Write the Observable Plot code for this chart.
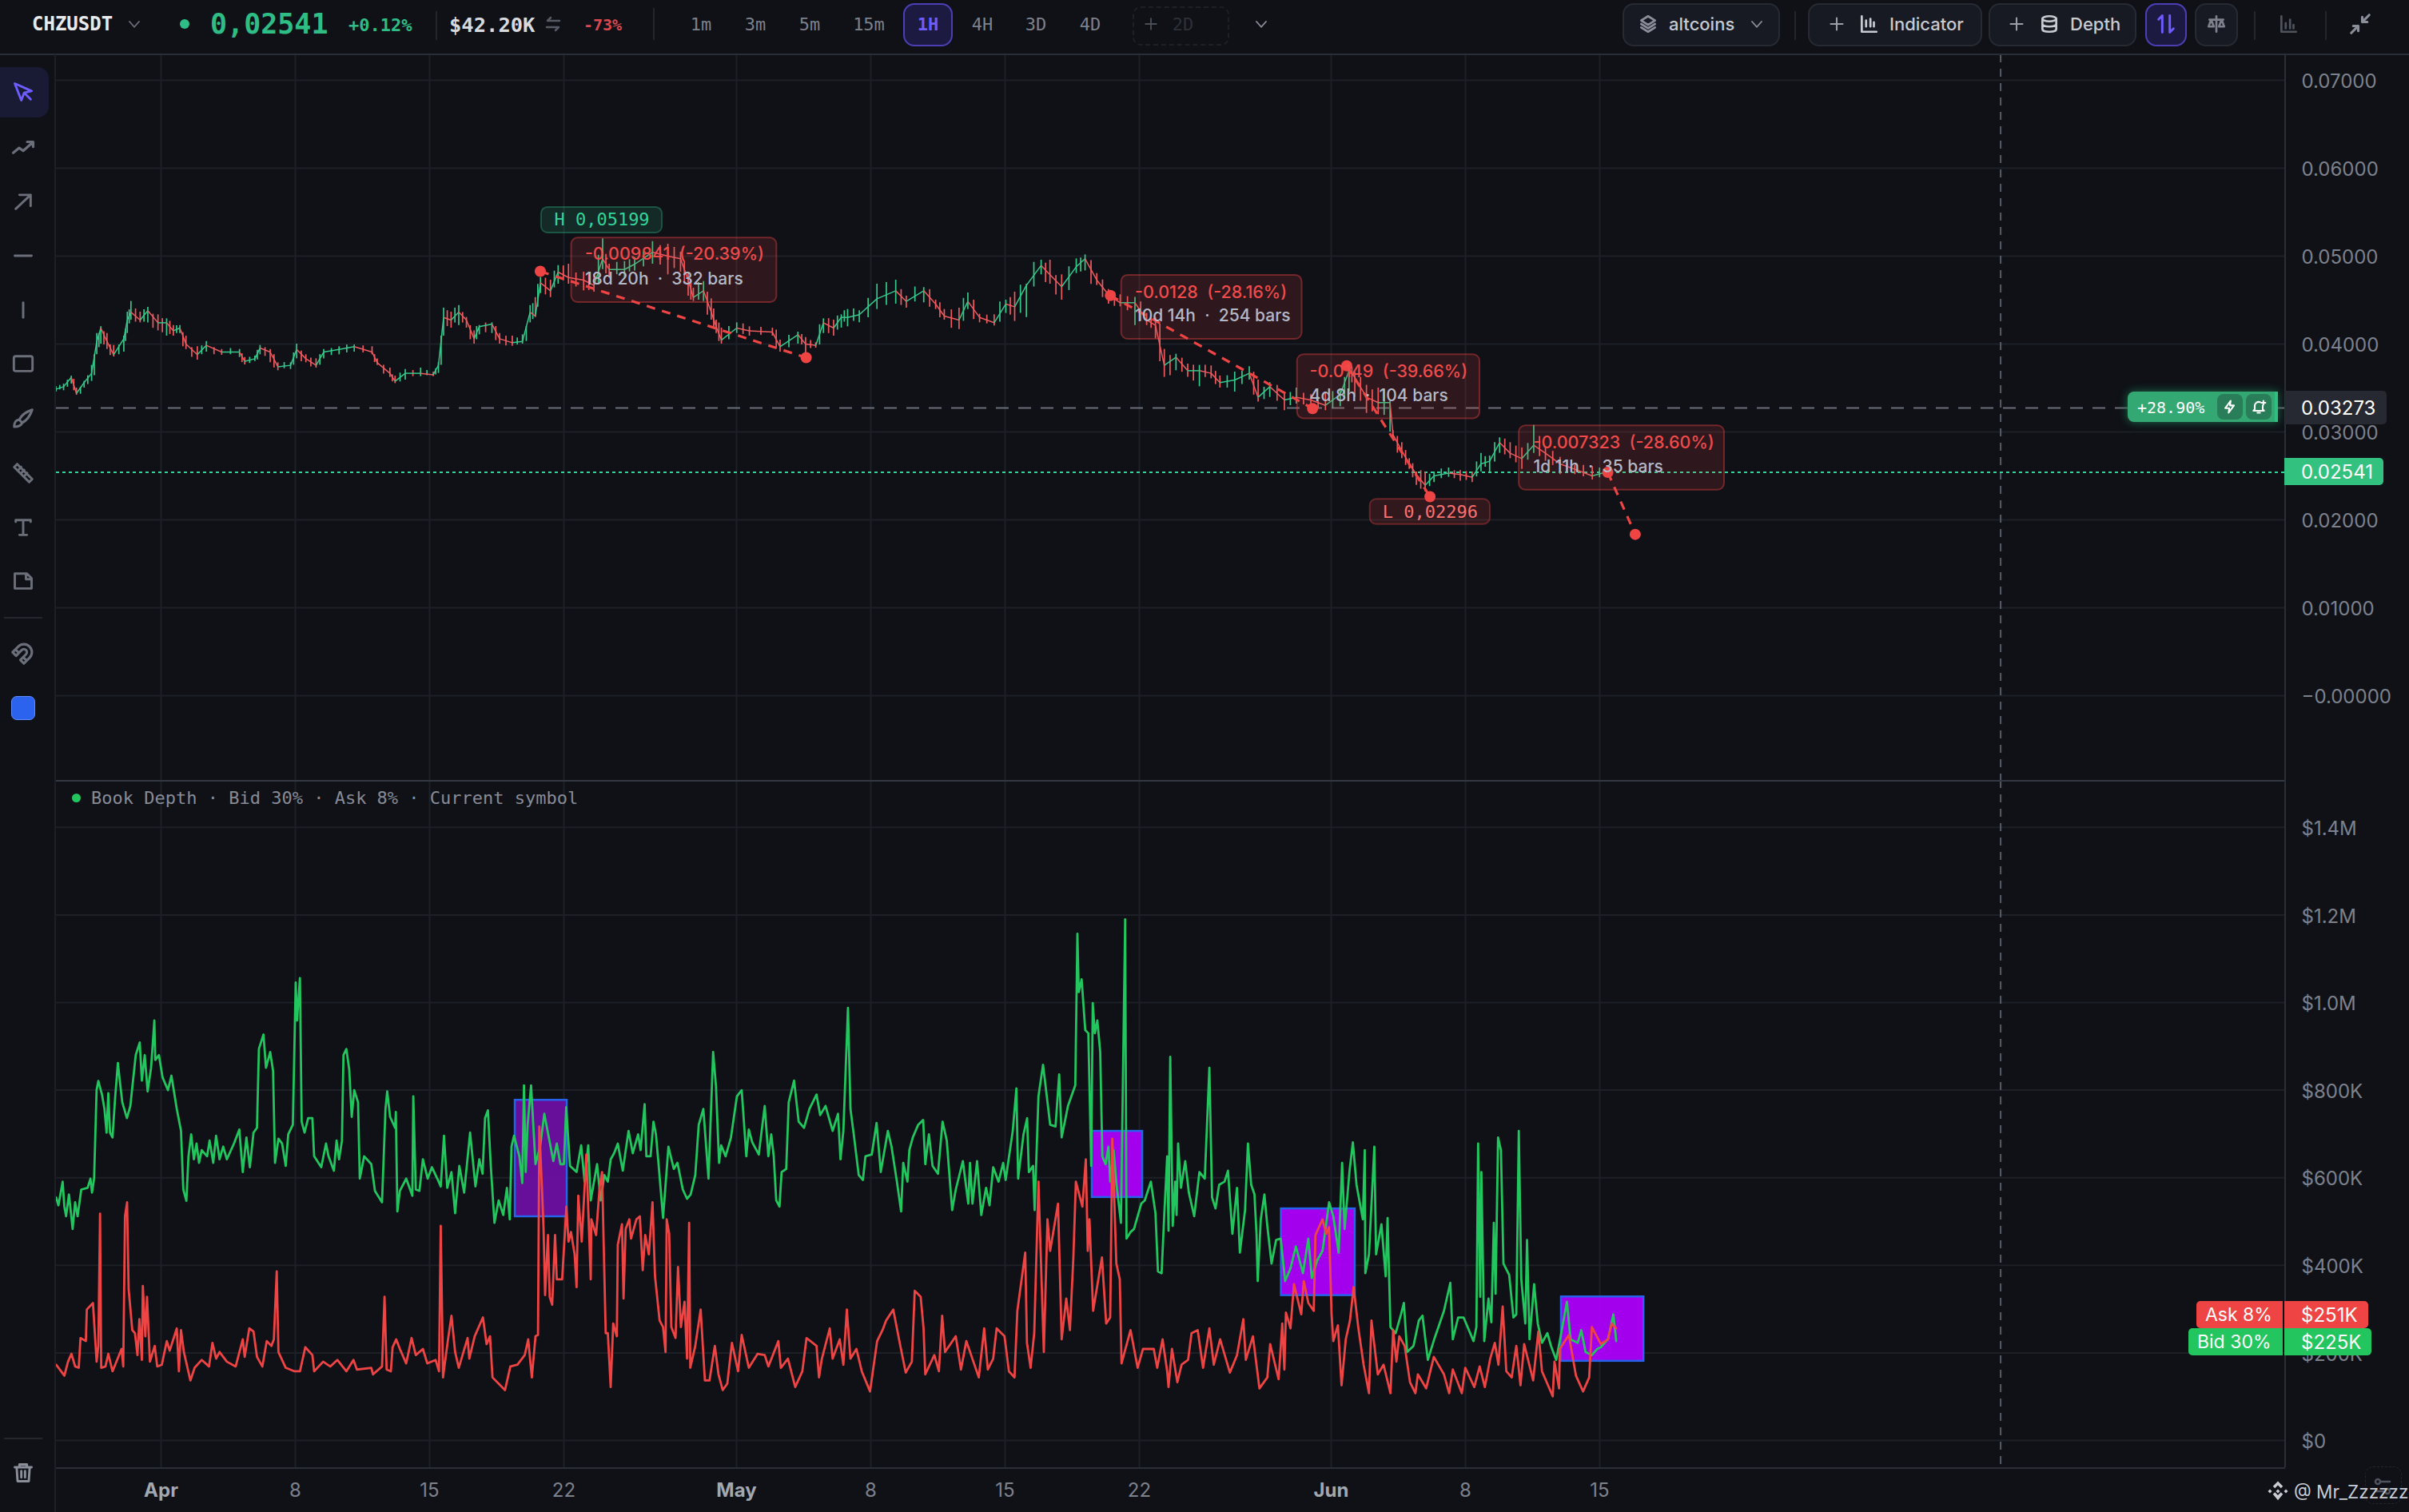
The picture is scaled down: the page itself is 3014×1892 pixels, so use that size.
<!DOCTYPE html>
<html><head><meta charset="utf-8">
<script src="https://cdn.jsdelivr.net/npm/d3@7"></script>
<script src="https://cdn.jsdelivr.net/npm/@observablehq/plot@0.6"></script>
<style>
html,body{margin:0;padding:0;background:#0f1117;width:3014px;height:1892px;overflow:hidden}
body{position:relative;font-family:Inter,sans-serif;color:#c7cad1}
#top,#bot{position:absolute;left:0}
#top{top:68px}#bot{top:976px}
#top svg,#bot svg{display:block;background:transparent}
.a{position:absolute;white-space:nowrap}
.t{position:absolute;white-space:nowrap;transform:translateY(-50%)}
.c{position:absolute;white-space:nowrap;transform:translate(-50%,-50%)}
.m{font-family:"DejaVu Sans Mono",monospace}
.b{position:absolute;top:4px;height:50px;border:2px solid #262a33;border-radius:14px;background:#171a22}
.ln{position:absolute;background:#2a2e37}
svg.i{position:absolute;fill:none;stroke:currentColor;stroke-width:2.5;stroke-linecap:round;stroke-linejoin:round;overflow:visible}
</style></head><body>
<div id="top"></div><div id="bot"></div>
<div id="ui"></div>
<script>
// All days are counted from 1 April; prices in 1e-5 USDT, depth in $K.
// [day, close, high, low]
const priceBars=[[-5.48,3485,3515,3455],[-5.08,3515,3545,3470],[-4.68,3621,3636,3545],[-4.41,3439,3500,3418],[-4.01,3561,3576,3500],[-3.62,3667,3758,3576],[-3.35,4030,4121,3879],[-3.14,4182,4197,4000],[-2.82,4030,4121,3939],[-2.47,3879,3985,3854],[-1.94,4060,4091,3909],[-1.76,4273,4364,4121],[-1.57,4363,4485,4273],[-1.09,4273,4364,4242],[-0.69,4379,4418,4242],[-0.16,4242,4333,4151],[0.29,4242,4288,4091],[0.64,4151,4212,4091],[0.98,4182,4212,4121],[1.30,4000,4091,3939],[1.89,3879,3970,3818],[2.36,3985,4030,3909],[3.16,3909,3939,3873],[4.09,3909,3939,3848],[4.36,3803,3848,3764],[4.89,3833,3863,3803],[5.16,3954,3985,3879],[5.69,3909,3939,3788],[6.09,3742,3788,3697],[6.75,3758,3788,3712],[7.07,3939,4000,3833],[7.55,3833,3879,3788],[8.08,3758,3833,3727],[8.48,3909,3939,3833],[9.28,3939,3970,3879],[10.07,3970,3991,3909],[11.0,3909,3970,3879],[11.27,3788,3833,3757],[11.93,3667,3727,3621],[12.2,3576,3636,3551],[12.73,3667,3712,3591],[13.53,3667,3727,3630],[14.19,3651,3682,3630],[14.46,3758,3788,3667],[14.73,4303,4409,4091],[15.12,4273,4364,4182],[15.52,4363,4439,4212],[15.92,4273,4303,4182],[16.32,4060,4151,4000],[16.59,4197,4212,4106],[17.25,4227,4242,4121],[17.65,4060,4121,4000],[18.31,4015,4091,3976],[18.84,4030,4106,4000],[19.24,4363,4439,4242],[19.51,4318,4530,4303],[19.78,4697,4757,4576],[20.3,4606,4727,4530],[20.7,4818,4894,4682],[21.24,4757,4909,4682],[22.03,4727,4818,4606],[22.57,4667,4788,4591],[23.02,4970,5197,4848],[23.36,4848,4909,4757],[24.16,4848,4939,4757],[24.69,4909,4985,4833],[25.62,5045,5166,4909],[26.42,5000,5136,4788],[27.08,4970,5045,4818],[27.48,4727,4818,4545],[27.75,4530,4636,4485],[28.28,4606,4712,4485],[28.68,4363,4515,4273],[28.94,4197,4273,4121],[29.21,4045,4182,4000],[30.01,4182,4242,4121],[30.67,4151,4197,4091],[31.87,4136,4182,4091],[32.27,3970,4045,3909],[33.2,4106,4136,4000],[33.6,4000,4076,3894],[34.13,3985,4015,3954],[34.53,4242,4288,4121],[35.06,4182,4273,4091],[35.46,4303,4333,4182],[35.79,4303,4394,4197],[36.4,4334,4379,4243],[37.32,4515,4682,4394],[38.3,4606,4727,4455],[38.85,4485,4546,4409],[39.76,4606,4643,4470],[40.38,4455,4500,4394],[40.83,4318,4394,4273],[41.6,4273,4409,4167],[42.06,4485,4582,4394],[42.67,4303,4340,4243],[43.43,4243,4334,4206],[44.04,4455,4500,4349],[44.5,4424,4591,4258],[45.11,4667,4682,4303],[45.88,4894,4955,4788],[46.34,4788,4955,4682],[46.95,4652,4788,4500],[47.71,4879,4970,4803],[48.17,4970,5015,4833],[48.78,4728,4803,4667],[49.39,4561,4621,4455],[50.0,4470,4561,4424],[50.77,4470,4531,4212],[51.38,4273,4349,4212],[51.84,4212,4303,4061],[52.3,3758,3940,3622],[52.91,3849,3885,3697],[53.52,3697,3773,3622],[54.13,3697,3758,3515],[54.74,3667,3752,3606],[55.2,3561,3637,3500],[55.97,3591,3682,3455],[56.73,3667,3743,3591],[57.19,3394,3591,3340],[57.8,3515,3561,3394],[58.56,3364,3455,3243],[59.18,3394,3500,3318],[59.94,3364,3425,3288],[60.7,3303,3440,3243],[61.47,3425,3485,3288],[61.93,3697,3758,3455],[62.23,3622,3682,3394],[62.84,3394,3531,3212],[63.45,3334,3500,3197],[64.07,3334,3349,3000],[64.22,2970,3016,2909],[64.68,2788,2879,2697],[65.07,2637,2697,2576],[65.44,2516,2546,2394],[65.9,2394,2546,2319],[66.36,2500,2546,2425],[67.12,2531,2591,2485],[67.73,2516,2561,2440],[68.35,2485,2546,2425],[68.81,2637,2758,2546],[69.26,2667,2728,2546],[69.78,2879,2934,2758],[70.33,2758,2879,2697],[70.94,2697,2819,2576],[71.56,2849,3076,2758],[72.17,2758,2834,2667],[72.93,2637,2712,2516],[73.7,2576,2622,2516],[74.61,2500,2606,2455],[75.37,2546,2576,2500]];
// further candle extents between the bars above: [day, high, low]
const priceWicks=[[-5.28,3530,3480],[-4.88,3590,3510],[-4.55,3600,3470],[-4.2,3510,3430],[-3.82,3640,3540],[-3.48,3880,3640],[-3.24,4120,3960],[-2.98,4140,3990],[-2.65,3990,3870],[-2.2,3990,3880],[-1.85,4170,4030],[-1.66,4390,4230],[-1.33,4400,4250],[-0.89,4390,4250],[-0.42,4340,4180],[0.07,4290,4130],[0.46,4260,4110],[0.81,4210,4120],[1.14,4130,3970],[1.6,3960,3850],[2.12,3980,3880],[2.76,3960,3880],[3.62,3950,3880],[4.22,3890,3790],[4.62,3850,3780],[5.02,3930,3820],[5.42,3960,3860],[5.89,3880,3730],[6.42,3790,3720],[6.91,3900,3760],[7.31,3920,3800],[7.81,3840,3740],[8.28,3880,3760],[8.88,3950,3870],[9.68,3990,3900],[10.53,3980,3900],[11.13,3880,3790],[11.6,3760,3660],[12.06,3650,3570],[12.46,3670,3570],[13.13,3700,3630],[13.86,3700,3640],[14.32,3720,3650],[14.6,4090,3760],[14.92,4380,4200],[15.32,4410,4240],[15.72,4360,4240],[16.12,4210,4050],[16.45,4200,4050],[16.92,4240,4130],[17.45,4200,4040],[17.98,4090,3980],[18.57,4070,3990],[19.04,4200,4030],[19.38,4460,4280],[19.64,4680,4420],[20.04,4750,4560],[20.5,4830,4640],[20.97,4890,4720],[21.63,4810,4650],[22.3,4790,4610],[22.8,5010,4680],[23.19,5020,4800],[23.76,4930,4790],[24.42,4960,4820],[25.15,5060,4880],[26.02,5120,4900],[26.75,5100,4860],[27.28,4940,4680],[27.62,4730,4500],[28.02,4700,4500],[28.48,4590,4330],[28.81,4400,4170],[29.08,4240,4030],[29.6,4200,4050],[30.34,4230,4110],[31.27,4190,4100],[32.07,4160,3950],[32.73,4100,3960],[33.4,4110,3990],[33.86,4040,3950],[34.33,4220,3990],[34.8,4290,4120],[35.26,4320,4160],[35.62,4380,4250],[36.1,4400,4260],[36.86,4520,4300],[37.81,4700,4440],[38.58,4620,4440],[39.3,4650,4480],[40.07,4620,4420],[40.6,4470,4300],[41.2,4390,4180],[41.83,4520,4260],[42.36,4500,4280],[43.05,4330,4230],[43.73,4480,4250],[44.27,4530,4330],[44.8,4670,4350],[45.5,4930,4650],[46.11,4920,4700],[46.65,4780,4560],[47.33,4880,4610],[47.94,4980,4820],[48.48,4950,4680],[49.08,4730,4530],[49.7,4590,4430],[50.38,4540,4380],[51.07,4480,4260],[51.61,4320,4180],[52.07,4230,3800],[52.6,3870,3640],[53.22,3840,3680],[53.82,3760,3580],[54.43,3760,3620],[54.97,3690,3540],[55.58,3640,3500],[56.35,3690,3540],[56.96,3680,3420],[57.5,3510,3370],[58.18,3530,3350],[58.87,3450,3300],[59.56,3440,3310],[60.32,3400,3270],[61.08,3460,3270],[61.7,3620,3380],[62.08,3740,3560],[62.53,3620,3350],[63.14,3480,3230],[63.76,3480,3190],[64.45,2950,2760],[64.88,2790,2620],[65.25,2640,2480],[65.67,2560,2350],[66.13,2520,2380],[66.74,2580,2470],[67.42,2560,2470],[68.04,2550,2450],[68.58,2660,2490],[69.03,2720,2600],[69.52,2880,2660],[70.05,2920,2740],[70.63,2840,2650],[71.25,2870,2680],[71.86,2950,2720],[72.55,2780,2620],[73.31,2680,2560],[74.15,2620,2490],[74.99,2590,2480]];
// [day, $K]
const bidDepth=[[-5.47,555],[-5.35,537],[-5.13,591],[-5.04,534],[-4.95,512],[-4.8,562],[-4.61,483],[-4.48,544],[-4.35,512],[-4.16,573],[-3.83,577],[-3.68,598],[-3.6,566],[-3.49,598],[-3.36,800],[-3.27,821],[-3.08,790],[-2.95,757],[-2.84,703],[-2.75,793],[-2.66,703],[-2.53,692],[-2.4,779],[-2.25,862],[-2.15,822],[-2.02,772],[-1.78,736],[-1.6,764],[-1.32,880],[-1.11,909],[-1.0,822],[-0.85,880],[-0.7,797],[-0.52,851],[-0.35,959],[-0.3,869],[-0.11,880],[0.08,829],[0.36,800],[0.54,833],[0.82,757],[1.04,707],[1.16,573],[1.32,547],[1.43,649],[1.57,699],[1.71,642],[1.85,678],[1.98,634],[2.12,663],[2.4,649],[2.53,685],[2.72,634],[2.87,696],[3.05,642],[3.24,671],[3.43,642],[3.8,678],[4.08,710],[4.26,613],[4.45,692],[4.63,624],[4.82,703],[5.0,714],[5.1,894],[5.34,927],[5.47,851],[5.69,887],[5.84,844],[5.94,634],[6.12,689],[6.31,678],[6.5,627],[6.63,699],[6.87,721],[7.02,1046],[7.09,959],[7.24,1056],[7.33,728],[7.48,703],[7.67,736],[7.89,736],[7.98,649],[8.35,624],[8.6,678],[8.73,649],[9.01,616],[9.15,685],[9.28,642],[9.43,685],[9.51,880],[9.66,894],[9.81,847],[9.94,739],[10.07,800],[10.27,772],[10.36,598],[10.59,649],[10.96,631],[11.15,570],[11.52,544],[11.7,757],[11.79,797],[11.94,739],[12.2,714],[12.24,750],[12.32,523],[12.45,570],[12.78,598],[13.1,559],[13.15,786],[13.28,573],[13.47,570],[13.65,642],[13.9,598],[14.12,624],[14.4,598],[14.58,580],[14.75,696],[14.92,577],[15.14,613],[15.33,519],[15.55,627],[15.8,566],[16.11,703],[16.39,580],[16.59,642],[16.76,609],[16.89,736],[17.04,754],[17.19,627],[17.38,497],[17.6,548],[17.84,515],[18.03,577],[18.18,505],[18.27,671],[18.4,696],[18.68,649],[18.83,588],[18.92,811],[19.01,613],[19.11,721],[19.29,811],[19.52,631],[19.76,671],[19.98,746],[20.45,638],[20.63,678],[20.82,631],[21.0,631],[21.12,761],[21.32,627],[21.66,613],[21.9,674],[22.08,591],[22.27,674],[22.4,548],[22.73,631],[22.92,548],[23.11,606],[23.29,591],[23.44,642],[23.62,656],[23.81,678],[24.07,616],[24.37,707],[24.59,656],[24.87,699],[25.0,663],[25.21,768],[25.3,649],[25.52,649],[25.67,728],[25.8,699],[25.93,634],[26.17,508],[26.45,671],[26.73,620],[26.92,634],[27.2,573],[27.42,552],[27.61,562],[27.85,606],[28.03,721],[28.27,757],[28.54,598],[28.78,887],[28.93,808],[29.09,634],[29.2,674],[29.43,649],[29.71,692],[30.02,786],[30.27,800],[30.51,649],[30.64,710],[30.82,681],[31.16,653],[31.47,764],[31.66,649],[31.81,699],[31.94,649],[32.07,548],[32.24,534],[32.35,613],[32.59,620],[32.72,772],[33.0,822],[33.24,728],[33.52,714],[33.8,757],[34.17,790],[34.36,743],[34.64,764],[35.01,707],[35.29,746],[35.42,642],[35.57,707],[35.81,988],[35.94,757],[36.12,696],[36.37,606],[36.59,595],[36.72,649],[37.05,653],[37.3,725],[37.52,613],[37.89,707],[38.08,671],[38.36,591],[38.58,523],[38.69,634],[38.91,591],[39.01,663],[39.19,692],[39.47,721],[39.73,732],[39.84,631],[40.03,699],[40.22,627],[40.5,609],[40.74,728],[40.96,685],[41.24,526],[41.43,573],[41.8,638],[42.08,541],[42.17,634],[42.3,541],[42.54,638],[42.76,515],[43.01,577],[43.19,537],[43.38,624],[43.66,591],[43.9,634],[44.03,595],[44.4,707],[44.59,804],[44.68,598],[44.96,699],[45.15,736],[45.24,613],[45.46,627],[45.54,526],[45.74,786],[45.98,858],[46.35,721],[46.63,717],[46.82,836],[46.95,692],[47.28,764],[47.66,811],[47.77,1157],[47.84,1024],[47.99,1053],[48.18,937],[48.34,930],[48.49,627],[48.57,999],[48.68,930],[48.81,959],[48.96,887],[49.07,649],[49.24,631],[49.39,671],[49.48,591],[49.66,663],[49.8,588],[50.04,497],[50.26,1190],[50.33,461],[50.54,476],[50.72,483],[51.1,541],[51.28,548],[51.6,591],[51.84,519],[51.97,386],[52.16,382],[52.31,526],[52.45,649],[52.52,479],[52.61,876],[52.74,490],[52.87,591],[52.94,515],[53.02,678],[53.17,577],[53.39,638],[53.58,566],[53.86,512],[54.13,613],[54.41,598],[54.65,851],[54.79,555],[54.97,530],[55.16,584],[55.44,591],[55.62,616],[55.85,472],[56.09,577],[56.24,429],[56.51,526],[56.66,678],[56.83,584],[57.0,562],[57.11,469],[57.17,364],[57.33,505],[57.52,562],[57.67,490],[57.89,404],[58.13,458],[58.37,461],[58.6,364],[58.88,393],[59.16,443],[59.53,382],[59.81,461],[59.99,371],[60.27,411],[60.55,433],[60.89,544],[61.11,512],[61.39,429],[61.57,634],[61.7,483],[61.95,613],[62.13,681],[62.32,584],[62.65,505],[62.75,663],[62.78,382],[62.97,425],[63.25,671],[63.34,425],[63.62,494],[63.84,375],[63.94,508],[64.09,259],[64.36,245],[64.64,288],[64.79,314],[64.96,202],[65.29,216],[65.57,274],[65.76,285],[66.04,184],[66.37,231],[66.88,296],[67.21,360],[67.34,231],[67.62,281],[67.9,281],[68.42,227],[68.57,259],[68.66,678],[68.77,328],[68.83,613],[68.98,227],[69.2,324],[69.35,270],[69.48,497],[69.57,335],[69.7,692],[69.85,663],[69.98,404],[70.28,378],[70.5,281],[70.65,288],[70.78,707],[70.91,368],[71.12,267],[71.21,458],[71.34,231],[71.58,357],[71.77,267],[71.99,223],[72.27,245],[72.46,216],[72.73,184],[73.01,249],[73.29,317],[73.48,231],[73.85,223],[74.04,252],[74.26,202],[74.59,195],[74.87,209],[75.06,213],[75.43,231],[75.71,288],[75.86,227]];
const askDepth=[[-5.47,173],[-5.04,148],[-4.85,180],[-4.67,198],[-4.48,169],[-4.29,166],[-4.2,234],[-3.92,227],[-3.87,299],[-3.55,314],[-3.36,180],[-3.27,216],[-3.18,518],[-3.12,166],[-2.9,169],[-2.75,198],[-2.53,158],[-2.06,209],[-1.97,169],[-1.88,512],[-1.77,544],[-1.69,346],[-1.5,252],[-1.36,245],[-1.23,195],[-1.13,277],[-1.0,184],[-0.95,353],[-0.82,238],[-0.73,328],[-0.58,180],[-0.33,216],[-0.2,169],[0.04,173],[0.3,227],[0.45,205],[0.82,256],[0.93,158],[1.04,252],[1.19,202],[1.53,137],[1.75,166],[2.12,184],[2.5,169],[2.68,223],[2.87,187],[3.05,202],[3.43,180],[3.89,169],[4.26,231],[4.36,191],[4.6,256],[4.82,249],[5.0,191],[5.28,169],[5.51,227],[5.75,216],[5.88,231],[6.03,386],[6.12,202],[6.5,166],[6.96,158],[7.24,158],[7.52,213],[7.89,195],[7.98,158],[8.45,180],[8.82,169],[9.19,184],[9.66,158],[10.03,184],[10.21,162],[10.96,166],[11.05,151],[11.52,169],[11.65,328],[11.76,162],[11.98,158],[12.07,213],[12.26,231],[12.45,209],[12.78,176],[13.06,234],[13.28,195],[13.65,209],[13.88,176],[14.31,184],[14.49,158],[14.58,490],[14.7,144],[14.96,231],[15.14,285],[15.33,202],[15.52,166],[15.98,234],[16.07,187],[16.35,238],[16.78,281],[16.97,220],[17.15,238],[17.28,144],[17.93,115],[18.21,169],[18.58,173],[18.96,195],[19.14,231],[19.33,144],[19.52,238],[19.65,241],[19.72,717],[19.87,562],[19.94,483],[20.02,332],[20.17,469],[20.26,328],[20.39,310],[20.54,469],[20.63,368],[20.91,368],[21.13,534],[21.24,454],[21.37,476],[21.56,425],[21.66,350],[21.75,559],[21.93,454],[22.17,653],[22.4,368],[22.43,505],[22.68,469],[22.86,577],[22.99,613],[23.18,245],[23.29,245],[23.44,122],[23.57,267],[23.76,238],[23.81,447],[24.03,494],[24.11,324],[24.22,483],[24.41,505],[24.5,461],[24.78,505],[24.96,512],[25.11,389],[25.24,469],[25.43,425],[25.62,544],[25.75,375],[25.99,274],[26.17,259],[26.3,202],[26.36,505],[26.49,472],[26.6,259],[26.82,234],[26.95,396],[27.1,259],[27.29,317],[27.42,187],[27.53,497],[27.59,166],[27.85,216],[28.13,299],[28.35,137],[28.59,137],[28.87,216],[29.06,151],[29.28,115],[29.52,130],[29.76,223],[30.08,158],[30.27,241],[30.64,166],[31.1,198],[31.47,195],[31.66,169],[32.18,227],[32.31,166],[32.68,187],[33.06,122],[33.43,158],[33.65,234],[34.17,216],[34.3,144],[34.45,187],[34.86,256],[35.01,187],[35.38,231],[35.57,173],[35.75,299],[35.94,187],[36.25,209],[36.53,158],[36.96,112],[37.33,227],[37.61,252],[37.8,274],[38.17,299],[38.54,216],[38.82,155],[39.14,180],[39.29,342],[39.6,328],[39.75,256],[39.84,151],[40.31,195],[40.55,158],[40.72,285],[40.87,202],[41.43,238],[41.7,162],[41.98,227],[42.63,144],[42.91,256],[43.1,162],[43.38,187],[43.56,256],[43.97,238],[44.2,158],[44.49,144],[44.64,296],[45.05,429],[45.14,223],[45.33,166],[45.52,245],[45.74,591],[46.02,202],[46.21,505],[46.35,433],[46.76,541],[46.95,231],[47.19,324],[47.38,252],[47.56,418],[47.69,591],[48.03,534],[48.21,642],[48.31,433],[48.4,505],[48.59,296],[49.05,418],[49.27,267],[49.48,281],[49.59,689],[49.8,404],[49.98,368],[50.07,176],[50.54,252],[50.91,166],[51.19,209],[51.75,209],[51.93,166],[52.21,231],[52.45,158],[52.52,122],[52.7,209],[52.98,133],[53.2,173],[53.54,184],[53.72,245],[54.04,252],[54.32,166],[54.65,256],[54.88,173],[55.21,231],[55.72,155],[56.09,195],[56.42,277],[56.55,184],[56.92,238],[57.26,119],[57.67,144],[57.82,220],[58.26,140],[58.45,267],[58.56,162],[58.64,292],[58.88,256],[59.06,357],[59.44,288],[59.57,364],[59.81,314],[60.09,296],[60.18,469],[60.55,505],[60.74,472],[60.89,487],[61.02,288],[61.11,227],[61.35,263],[61.54,126],[61.76,231],[61.98,274],[62.17,350],[62.41,259],[62.69,173],[62.97,108],[63.1,274],[63.43,151],[63.73,173],[64.09,108],[64.23,252],[64.4,180],[64.55,238],[64.83,216],[65.11,133],[65.39,108],[65.52,151],[65.95,119],[66.35,191],[66.88,151],[67.15,108],[67.34,162],[67.81,108],[67.99,166],[68.46,122],[68.74,169],[69.01,122],[69.29,187],[69.53,223],[69.72,173],[69.94,306],[70.13,158],[70.41,144],[70.65,216],[70.87,126],[71.06,220],[71.53,137],[71.8,249],[71.99,158],[72.55,101],[72.64,180],[72.88,119],[72.92,209],[73.39,241],[73.76,148],[74.13,112],[74.45,144],[74.59,259],[75.06,220],[75.43,231],[75.62,267],[75.86,256]];
// highlighted depth boxes: [day from, day to, $K low, $K high]
const depthBoxes=[[18.46,21.17,511,777],[48.54,51.17,555,706],[58.4,62.25,331,529],[73.0,77.3,181,328]];
// measure drawings: [day from, price from, day to, price to]
const measures=[[19.77,0.04827,33.63,0.03845],[49.49,0.04552,60.03,0.03266],[61.81,0.03752,66.15,0.02264],[75.42,0.02541,76.85,0.01835]];
const measureLabels=[["-0.009841  (-20.39%)","18d 20h  ·  332 bars"],["-0.0128  (-28.16%)","10d 14h  ·  254 bars"],["-0.0149  (-39.66%)","4d 8h  ·  104 bars"],["-0.007323  (-28.60%)","1d 11h  ·  35 bars"]];
// label boxes: [day from, day to, price low, price high]
const measureBoxes=[[21.4,32.1,0.04473,0.05206],[50.07,59.48,0.04055,0.04782],[59.24,68.75,0.03151,0.03879],[70.8,81.5,0.02339,0.0307]];
const highLow=[["H 0,05199",22.98,0.0541,19.83,26.13,0.05264,0.05555],["L 0,02296",66.16,0.0209,63.03,69.29,0.01948,0.02234]];
const lastPrice=0.02541, markPrice=0.03273, crosshairDay=95.9;
const priceTicks=[0,0.01,0.02,0.03,0.04,0.05,0.06,0.07];
const depthTicks=[0,200,400,600,800,1000,1200,1400];
const dayTicks=[0,7,14,21,30,37,44,51,61,68,75];
const dayTickLabels=["Apr","8","15","22","May","8","15","22","Jun","8","15"];
const monthTickIndex=[0,4,8];

const day=d=>new Date(Date.UTC(2025,3,1)+d*864e5);
const xDomain=[day(-5.4583),day(110.75)];
const GRID="#1d2027",GREEN="#22c55e",RED="#ef4444",UP="#35c98b",DOWN="#ef5a5f";
const font="Inter, sans-serif", mono="'DejaVu Sans Mono', monospace";
const base={width:3014,marginLeft:70,marginRight:155,marginTop:0,style:{background:"transparent",fontFamily:font,fontSize:"24px"}};

const moves=priceBars.slice(1).map((b,i)=>({x1:day(priceBars[i][0]),y1:priceBars[i][1]/1e5,x2:day(b[0]),y2:b[1]/1e5,up:b[1]>=priceBars[i][1]}));
const bars=priceBars.map((b,i)=>({x:day(b[0]),hi:b[2]/1e5,lo:b[3]/1e5,up:i===0||b[1]>=priceBars[i-1][1]}));
const wicks=priceWicks.map(w=>{const prev=priceBars[Math.max(0,d3.bisector(b=>b[0]).left(priceBars,w[0])-1)];return {x:day(w[0]),hi:w[1]/1e5,lo:w[2]/1e5,up:(w[1]+w[2])/2>=prev[1]};});
const dir=d=>d.up?UP:DOWN;
const tickDy=2;

const topChart=Plot.plot({...base,height:908,marginBottom:0,
 x:{type:"utc",domain:xDomain,axis:null},
 y:{domain:[-0.009636,0.07291],axis:null},
 marks:[
  Plot.ruleY(priceTicks,{stroke:GRID,strokeWidth:2}),
  Plot.ruleX(dayTicks.map(day),{stroke:GRID,strokeWidth:2}),
  Plot.axisY(priceTicks,{anchor:"right",tickSize:0,tickPadding:20,dy:tickDy,fill:"#7d818c",fontSize:24,fontVariant:"normal",tickFormat:v=>v===0?"−0.00000":v.toFixed(5)}),
  Plot.ruleX([day(crosshairDay)],{stroke:"#565b66",strokeWidth:2,strokeDasharray:"10 8"}),
  Plot.ruleY([markPrice],{stroke:"#6a6e78",strokeWidth:2,strokeDasharray:"16 12"}),
  Plot.ruleY([lastPrice],{stroke:"#34d399",strokeWidth:2,strokeDasharray:"4 4"}),
  Plot.ruleX(wicks,{x:"x",y1:"lo",y2:"hi",stroke:dir,strokeWidth:1.7}),
  Plot.ruleX(bars,{x:"x",y1:"lo",y2:"hi",stroke:dir,strokeWidth:1.7}),
  Plot.link(moves,{x1:"x1",y1:"y1",x2:"x2",y2:"y2",stroke:dir,strokeWidth:1.5}),
  Plot.rect(measureBoxes,{x1:b=>day(b[0]),x2:b=>day(b[1]),y1:b=>b[2],y2:b=>b[3],rx:8,fill:"#ef4444",fillOpacity:0.14,stroke:"#ef4444",strokeOpacity:0.4,strokeWidth:2}),
  Plot.rect(highLow,{x1:b=>day(b[3]),x2:b=>day(b[4]),y1:b=>b[5],y2:b=>b[6],rx:8,fill:(b,i)=>i?"#ef4444":"#2ebd85",fillOpacity:0.15,stroke:(b,i)=>i?"#ef4444":"#2ebd85",strokeOpacity:0.35,strokeWidth:2}),
  Plot.text(highLow,{x:b=>day(b[1]),y:b=>b[2],text:b=>b[0],fill:(b,i)=>i?"#f87171":"#34d399",fontFamily:mono,fontSize:22}),
  Plot.link(measures,{x1:m=>day(m[0]),y1:m=>m[1],x2:m=>day(m[2]),y2:m=>m[3],stroke:RED,strokeWidth:3.2,strokeDasharray:"11 9"}),
  Plot.dot(measures,{x:m=>day(m[0]),y:m=>m[1],r:7,fill:RED}),
  Plot.dot(measures,{x:m=>day(m[2]),y:m=>m[3],r:7,fill:RED}),
  Plot.text(measureLabels,{x:(l,i)=>day([22.1,50.77,59.88,71.54][i]),y:(l,i)=>[0.05018,0.04585,0.03682,0.02873][i],text:l=>l[0],textAnchor:"start",fill:"#f04a4a",fontSize:21.5,fontWeight:500,fontFamily:font}),
  Plot.text(measureLabels,{x:(l,i)=>day([22.1,50.77,59.88,71.54][i]),y:(l,i)=>[0.04736,0.04318,0.03409,0.02606][i],text:l=>l[1],textAnchor:"start",fill:"#b4b8c6",fontSize:21,fontWeight:500,fontFamily:font})
 ]});
document.getElementById("top").append(topChart);

const botChart=Plot.plot({...base,height:916,marginBottom:56,
 x:{type:"utc",domain:xDomain,axis:null},
 y:{domain:[-62,1507.3],axis:null},
 marks:[
  Plot.ruleY(depthTicks,{stroke:GRID,strokeWidth:2}),
  Plot.ruleX(dayTicks.map(day),{stroke:GRID,strokeWidth:2}),
  Plot.rect(depthBoxes,{x1:b=>day(b[0]),x2:b=>day(b[1]),y1:b=>b[2],y2:b=>b[3],fill:(b,i)=>i?"#ae00ff":"#6e0fa6",fillOpacity:0.93,stroke:"#2563eb",strokeWidth:2.5}),
  Plot.axisY(depthTicks,{anchor:"right",tickSize:0,tickPadding:20,dy:tickDy,fill:"#7d818c",fontSize:24,fontVariant:"normal",tickFormat:v=>v===0?"$0":v>=1000?"$"+(v/1000).toFixed(1)+"M":"$"+v+"K"}),
  Plot.ruleX([day(crosshairDay)],{stroke:"#565b66",strokeWidth:2,strokeDasharray:"10 8"}),
  Plot.line(bidDepth,{x:r=>day(r[0]),y:r=>r[1],stroke:GREEN,strokeWidth:2.8}),
  Plot.line(askDepth,{x:r=>day(r[0]),y:r=>r[1],stroke:RED,strokeWidth:2.8}),
  Plot.axisX(dayTicks.map(day).filter((d,i)=>!monthTickIndex.includes(i)),{anchor:"bottom",tickSize:0,tickPadding:19,fill:"#7d818c",fontSize:24,fontWeight:400,fontVariant:"normal",tickFormat:d=>dayTickLabels[dayTicks.indexOf((d-day(0))/864e5)]}),
  Plot.axisX(monthTickIndex.map(i=>day(dayTicks[i])),{anchor:"bottom",tickSize:0,tickPadding:19,fill:"#a3a7b0",fontSize:24,fontWeight:700,fontVariant:"normal",tickFormat:d=>dayTickLabels[dayTicks.indexOf((d-day(0))/864e5)]})
 ]});
document.getElementById("bot").append(botChart);

// --- interface chrome around the chart ---
const ic=(x,y,s,inner,color="#6b6f7a")=>`<svg class="i" style="left:${x-s/2}px;top:${y-s/2}px;color:${color}" width="${s}" height="${s}" viewBox="0 0 24 24">${inner}</svg>`;
const T=(x,y,txt,st)=>`<div class="t" style="left:${x}px;top:${y}px;${st}">${txt}</div>`;
const C=(x,y,txt,st)=>`<div class="c" style="left:${x}px;top:${y}px;${st}">${txt}</div>`;
const box=(x1,x2,st="")=>`<div class="b" style="left:${x1}px;width:${x2-x1-4}px;${st}"></div>`;
const vl=(x,y1,y2,c="#23262e")=>`<div class="ln" style="left:${x}px;top:${y1}px;width:2px;height:${y2-y1}px;background:${c}"></div>`;
const hl=(x1,x2,y,c="#2a2e37")=>`<div class="ln" style="left:${x1}px;top:${y}px;width:${x2-x1}px;height:2px;background:${c}"></div>`;
const chev=(x,y,c="#6b6f7a")=>ic(x,y,18,'<path d="M4 8l8 9 8-9"/>',c);
let h="";
// frame
h+=hl(0,3014,67,"#2a2e37")+hl(70,2859,976,"#343842")+hl(70,2859,1836,"#2a2e37");
h+=vl(2858,68,1836,"#2a2e37")+vl(68,68,1892,"#1c1f26");
// top bar
h+=T(40,30,"CHZUSDT","font:700 24px 'DejaVu Sans Mono';color:#e8eaee");
h+=chev(168,30);
h+=`<div class="a" style="left:225px;top:24px;width:12px;height:12px;border-radius:50%;background:#2ebd85"></div>`;
h+=T(263,30,"0,02541","font:700 35px 'DejaVu Sans Mono';color:#2ebd85");
h+=T(436,31,"+0.12%","font:700 22px 'DejaVu Sans Mono';color:#2ebd85");
h+=vl(545,14,50);
h+=T(562,31,"$42.20K","font:700 25.5px 'DejaVu Sans Mono';color:#d8dade");
h+=ic(692,30,24,'<path d="M20 8H5l4-4M4 16h15l-4 4"/>',"#565a64");
h+=T(730,31,"-73%","font:700 20px 'DejaVu Sans Mono';color:#d9484f");
h+=vl(817,10,50);
[["1m",877],["3m",945],["5m",1013],["15m",1087]].forEach(([t,x])=>h+=C(x,30,t,"font:22px 'DejaVu Sans Mono';color:#7d818c"));
h+=box(1130,1192,"background:#1d1a42;border-color:#4c3fb5");
h+=C(1161,30,"1H","font:700 22px 'DejaVu Sans Mono';color:#6d5cff");
[["4H",1229],["3D",1296],["4D",1364]].forEach(([t,x])=>h+=C(x,30,t,"font:22px 'DejaVu Sans Mono';color:#7d818c"));
h+=`<div class="a" style="left:1417px;top:8px;width:117px;height:45px;border:2px dashed #1d2027;border-radius:10px"></div>`;
h+=ic(1440,30,18,'<path d="M12 3v18M3 12h18"/>',"#4a4e57")+C(1480,30,"2D","font:22px 'DejaVu Sans Mono';color:#2d3038");
h+=chev(1578,30,"#8b8f9a");
h+=box(2030,2227)+ic(2062,30,26,'<path d="M12 3l8 5-8 5-8-5zM4 12l8 5 8-5M4 16l8 5 8-5"/>',"#8b8f9a")+T(2088,30,"altcoins","font:500 22px Inter;color:#c7cad1")+chev(2198,30,"#8b8f9a");
h+=vl(2245,14,50);
h+=box(2262,2480)+ic(2298,30,20,'<path d="M12 3v18M3 12h18"/>',"#9a9ea9")+ic(2338,30,26,'<path d="M4 3v18h17M9 15V8M14 15V6M18 15v-5"/>',"#c7cad1")+T(2364,30,"Indicator","font:500 22px Inter;color:#c7cad1");
h+=box(2488,2673)+ic(2523,30,20,'<path d="M12 3v18M3 12h18"/>',"#9a9ea9")+ic(2564,30,26,'<ellipse cx="12" cy="6" rx="8" ry="3"/><path d="M4 6v12c0 2 4 3 8 3s8-1 8-3V6M4 12c0 2 4 3 8 3s8-1 8-3"/>',"#c7cad1")+T(2590,30,"Depth","font:500 22px Inter;color:#c7cad1");
h+=box(2684,2736,"background:#1d1a42;border-color:#4c3fb5")+ic(2710,30,28,'<path d="M8 21V3L4 7M16 3v18l4-4"/>',"#6d5cff");
h+=box(2746,2800)+ic(2773,30,26,'<path d="M12 3v18M4 7h16M6 7l-3 8h6zM18 7l-3 8h6z"/>',"#7d818c");
h+=vl(2820,14,50)+ic(2863,30,26,'<path d="M4 3v18h17M9 17v-6M14 17V7M18 17v-4"/>',"#4f535d");
h+=vl(2909,14,50)+ic(2953,30,30,'<path d="M21 3l-7 7M14 5v5h5M3 21l7-7M10 19v-5H5"/>',"#8b8f9a");
// left tools
h+=`<div class="a" style="left:0;top:84px;width:61px;height:63px;border-radius:0 14px 14px 0;background:#191a33"></div>`;
h+=ic(29,115,28,'<path d="M3 3l18 8-8 2-3 8zM14 14l6 6"/>',"#6d5cff");
h+=ic(29,185,30,'<path d="M2 17l6-5 4 3 9-8M16 6h6v5"/>');
h+=ic(29,252,28,'<path d="M4 20L20 5M8 5h12v12"/>');
h+=ic(29,320,28,'<path d="M3 12h18"/>');
h+=ic(29,388,28,'<path d="M12 4v16"/>');
h+=ic(29,455,28,'<rect x="2" y="4" width="20" height="16" rx="2"/>');
h+=ic(29,524,30,'<path d="M21 3C15 5 10 9 8 13l3 3c4-2 8-7 10-13zM8 13c-3 0-5 3-5 7 4 0 7-1 8-4"/>');
h+=ic(29,592,30,'<path d="M6 3l15 15-3 3L3 6zM8 8l2-2M11 11l2-2M14 14l2-2"/>');
h+=ic(29,660,28,'<path d="M4 6V4h16v2M12 4v16M8 20h8"/>');
h+=ic(29,727,28,'<path d="M3 4h13l5 5v11H3zM15 4v6h6"/>');
h+=hl(5,53,772,"#24272f");
h+=ic(29,817,30,'<g transform="rotate(-135 12 12)"><path d="M4 5v8a8 8 0 0 0 16 0V5h-5v8a3 3 0 0 1-6 0V5zM4 9h5M15 9h5"/></g>');
h+=`<div class="a" style="left:14px;top:871px;width:30px;height:30px;border-radius:7px;background:#2b63ee;border:1px solid #5e8cff;box-sizing:border-box"></div>`;
h+=hl(5,53,1799,"#24272f");
h+=ic(29,1843,28,'<path d="M3 6h18M8 6V3h8v3M5 6l1 15h12l1-15M10 10v7M14 10v7"/>',"#8b8f9a");
// legend above the depth pane
h+=`<div class="a" style="left:90px;top:993px;width:11px;height:11px;border-radius:50%;background:#22c55e"></div>`;
h+=T(114,998,"Book Depth · Bid 30% · Ask 8% · Current symbol","font:22px 'DejaVu Sans Mono';color:#878b96");
// price tags
h+=`<div class="a" style="left:2662px;top:490px;width:188px;height:38px;border-radius:8px 0 0 8px;background:#33a872;box-shadow:0 0 12px #1d6b4a"></div>`;
h+=`<div class="a" style="left:2846px;top:490px;width:4px;height:38px;background:#2fbf7f"></div>`;
h+=T(2674,510,"+28.90%","font:20px 'DejaVu Sans Mono';color:#fff");
h+=`<div class="a" style="left:2774px;top:493px;width:32px;height:32px;border-radius:8px;background:#2a7d59"></div><div class="a" style="left:2810px;top:493px;width:32px;height:32px;border-radius:8px;background:#2a7d59"></div>`;
h+=ic(2790,509,20,'<path d="M13 3L5 14h6l-1 7 8-11h-6z"/>',"#fff")+ic(2826,509,20,'<path d="M6 16V10a6 6 0 0 1 8-5M18 10v6l2 2H4l2-2M10 21h4M19 3v6M16 6h6"/>',"#fff");
h+=`<div class="a" style="left:2859px;top:489px;width:127px;height:42px;background:#262932;border-radius:0 5px 5px 0"></div>`;
h+=T(2879,510,"0.03273","font:24px Inter;color:#fff");
h+=`<div class="a" style="left:2858px;top:573px;width:124px;height:34px;background:#33c17f;border-radius:0 5px 5px 0"></div>`;
h+=T(2879,590,"0.02541","font:24px Inter;color:#fff");
// depth tags
h+=`<div class="a" style="left:2748px;top:1628px;width:108px;height:34px;background:#ef4444;border-radius:5px 0 0 5px"></div><div class="a" style="left:2858px;top:1628px;width:105px;height:34px;background:#ef4444;border-radius:0 5px 5px 0"></div>`;
h+=T(2759,1645,"Ask 8%","font:23px Inter;color:#fff")+T(2879,1645,"$251K","font:24px Inter;color:#fff");
h+=`<div class="a" style="left:2738px;top:1662px;width:118px;height:34px;background:#22c55e;border-radius:5px 0 0 5px"></div><div class="a" style="left:2858px;top:1662px;width:109px;height:34px;background:#22c55e;border-radius:0 5px 5px 0"></div>`;
h+=T(2749,1679,"Bid 30%","font:23px Inter;color:#fff")+T(2879,1679,"$225K","font:24px Inter;color:#fff");
// watermark
h+=`<div class="a" style="left:2959px;top:1835px;width:44px;height:45px;border:1.5px dashed #23262e;border-radius:10px"></div>`;
h+=ic(2981,1860,24,'<circle cx="6" cy="6" r="3"/><path d="M9 6h12M3 18h12"/><circle cx="18" cy="18" r="3"/>',"#4f535d");
h+=ic(2850,1866,30,'<path d="M12 2l5 5-2 2-3-3-3 3-2-2zM4 10l2 2-2 2-2-2zM20 10l2 2-2 2-2-2zM12 10l2 2-2 2-2-2zM7 15l2-2 3 3 3-3 2 2-5 6z" fill="#c9ccd3" stroke="none"/>',"#c9ccd3");
h+=T(2870,1866,"@ Mr_Zzzzzz","font:22.5px Inter;color:#c9ccd3");
document.getElementById("ui").innerHTML=h;
</script>
</body></html>
